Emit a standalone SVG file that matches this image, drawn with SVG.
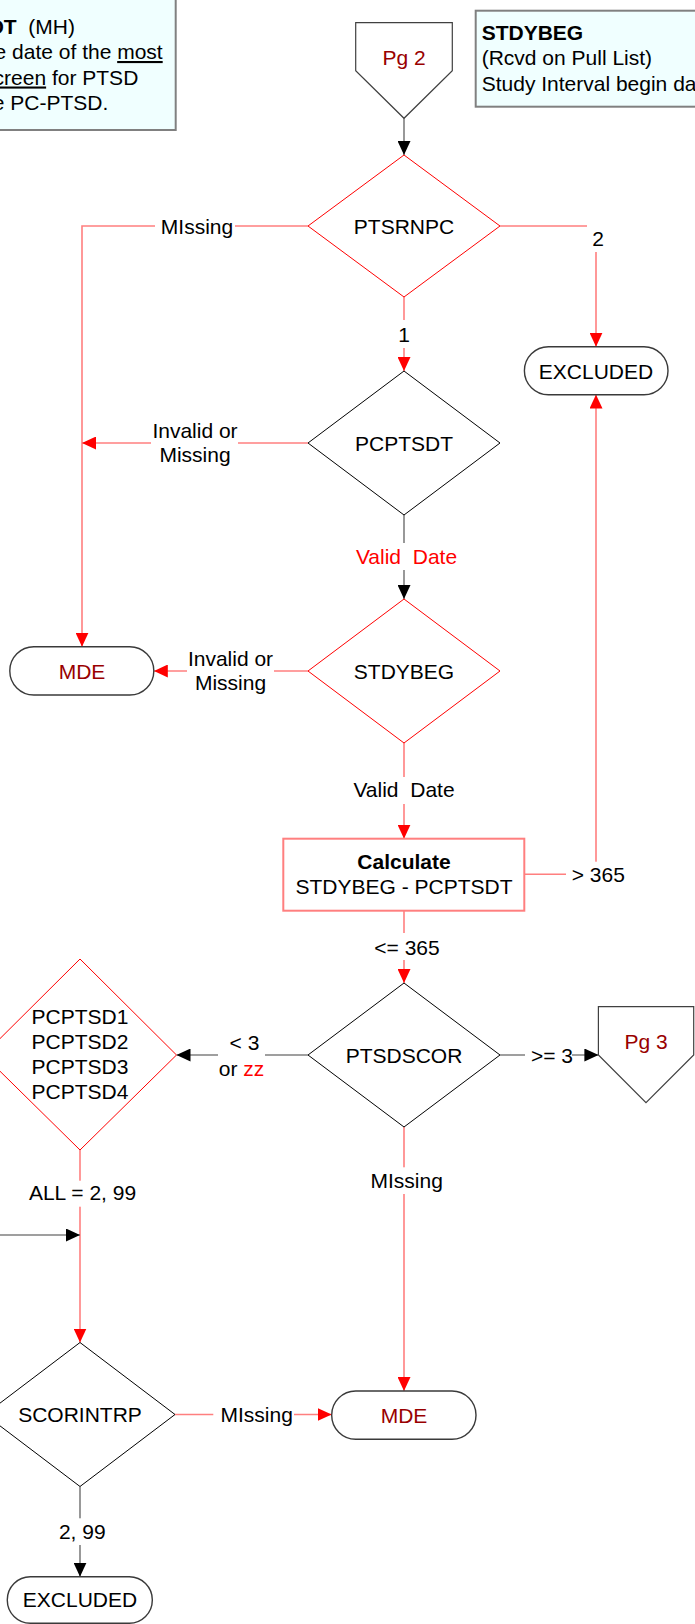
<svg xmlns="http://www.w3.org/2000/svg" width="695" height="1624" viewBox="0 0 695 1624">
<style>
text{font-family:"Liberation Sans",Arial,sans-serif;font-size:21px;fill:#000}
.c{text-anchor:middle}
.dr{fill:#990000}
.rd{fill:#FF0000}
.b{font-weight:bold}
.u{text-decoration:underline}
.note{fill:#F0FFFF;stroke:#808080;stroke-width:2}
.dk{fill:#fff;stroke:#000;stroke-width:1}
.dr2{fill:#fff;stroke:#FF0000;stroke-width:1}
.term{fill:#fff;stroke:#3a3a3a;stroke-width:1.4}
.pent{fill:#fff;stroke:#404040;stroke-width:1.2}
.lr{fill:none;stroke:#FF7F7F;stroke-width:1.6}
.lg{fill:none;stroke:#7F7F7F;stroke-width:1.6}
.bg{fill:#fff;stroke:none}
</style>
<defs>
<marker id="ar" markerUnits="userSpaceOnUse" markerWidth="14" markerHeight="13" refX="14" refY="6.5" orient="auto"><path d="M0,0 L14,6.5 L0,13 z" fill="#FF0000"/></marker>
<marker id="ab" markerUnits="userSpaceOnUse" markerWidth="14" markerHeight="13" refX="14" refY="6.5" orient="auto"><path d="M0,0 L14,6.5 L0,13 z" fill="#000"/></marker>
</defs>
<rect width="695" height="1624" fill="#fff"/>

<g id="note-left">
<rect class="note" x="-40" y="-20" width="215.7" height="150"/>
<text x="75" y="33.5" text-anchor="end" xml:space="preserve"><tspan class="b">DT</tspan>  (MH)</text>
<text x="162.7" y="59" text-anchor="end" xml:space="preserve">e date of the <tspan class="u">most</tspan></text>
<text x="138.3" y="84.5" text-anchor="end" xml:space="preserve"><tspan class="u">creen</tspan> for PTSD</text>
<text x="108.3" y="110" text-anchor="end">e PC-PTSD.</text>
</g>

<g id="note-right">
<rect class="note" x="475.7" y="10.7" width="260" height="96"/>
<text x="481.7" y="39.5" class="b">STDYBEG</text>
<text x="481.7" y="65">(Rcvd on Pull List)</text>
<text x="481.7" y="90.5">Study Interval begin da</text>
</g>

<g id="connectors">
<path class="lg" d="M404,118.3 V155" marker-end="url(#ab)"/>
<path class="lr" d="M308,226 H82 V646.7" marker-end="url(#ar)"/>
<path class="lr" d="M500,226 H596 V346.7" marker-end="url(#ar)"/>
<path class="lr" d="M404,297 V371" marker-end="url(#ar)"/>
<path class="lr" d="M308,443 H82" marker-end="url(#ar)"/>
<path class="lg" d="M404,515 V599" marker-end="url(#ab)"/>
<path class="lr" d="M308,671 H153.8" marker-end="url(#ar)"/>
<path class="lr" d="M404,743 V838.7" marker-end="url(#ar)"/>
<path class="lr" d="M524.3,874.3 H596 V394.6" marker-end="url(#ar)"/>
<path class="lr" d="M404,910.7 V983" marker-end="url(#ar)"/>
<path class="lg" d="M308,1055 H176.5" marker-end="url(#ab)"/>
<path class="lg" d="M500,1055 H598.4" marker-end="url(#ab)"/>
<path class="lr" d="M404,1127 V1391" marker-end="url(#ar)"/>
<path class="lr" d="M80,1150 V1342.5" marker-end="url(#ar)"/>
<path class="lg" d="M0,1235 H80" marker-end="url(#ab)"/>
<path class="lr" d="M175,1414.5 H331.7" marker-end="url(#ar)"/>
<path class="lg" d="M80,1486.5 V1576.7" marker-end="url(#ab)"/>

<rect class="bg" x="155" y="214" width="80" height="26"/>
<text class="c" x="197" y="233.5">MIssing</text>
<rect class="bg" x="587" y="224" width="22" height="28"/>
<text class="c" x="598" y="245.5">2</text>
<rect class="bg" x="393" y="320" width="22" height="28"/>
<text class="c" x="404" y="342">1</text>
<rect class="bg" x="151" y="418" width="87" height="52"/>
<text class="c" x="195" y="437.5">Invalid or</text>
<text class="c" x="195" y="461.5">Missing</text>
<rect class="bg" x="350" y="543" width="110" height="27"/>
<text class="c rd" x="406.5" y="564" xml:space="preserve">Valid  Date</text>
<rect class="bg" x="187" y="646" width="87" height="51"/>
<text class="c" x="230.5" y="666">Invalid or</text>
<text class="c" x="230.5" y="690">Missing</text>
<rect class="bg" x="350" y="777" width="110" height="27"/>
<text class="c" x="404" y="797" xml:space="preserve">Valid  Date</text>
<rect class="bg" x="566" y="861.7" width="66" height="26"/>
<text class="c" x="598.3" y="881.8">&gt; 365</text>
<rect class="bg" x="372" y="933" width="70" height="27"/>
<text class="c" x="407" y="955">&lt;= 365</text>
<rect class="bg" x="218" y="1029" width="47" height="53"/>
<text class="c" x="244.5" y="1050">&lt; 3</text>
<text class="c" x="241.6" y="1075.5">or <tspan class="rd">zz</tspan></text>
<rect class="bg" x="525" y="1043" width="47" height="24"/>
<text class="c" x="552" y="1062.5">&gt;= 3</text>
<rect class="bg" x="26" y="1180.7" width="113" height="26"/>
<text class="c" x="82.5" y="1199.8">ALL = 2, 99</text>
<rect class="bg" x="368" y="1167.3" width="77" height="26.7"/>
<text class="c" x="406.7" y="1187.5">MIssing</text>
<rect class="bg" x="213.3" y="1402" width="80.7" height="26"/>
<text class="c" x="256.7" y="1421.8">MIssing</text>
<rect class="bg" x="55" y="1518.3" width="55" height="26.7"/>
<text class="c" x="82.3" y="1539.2">2, 99</text>
</g>

<g id="pg2">
<polygon class="pent" points="355.7,22.7 452.3,22.7 452.3,70.7 404,118.3 355.7,70.7"/>
<text class="c dr" x="404" y="65">Pg 2</text>
</g>
<g id="ptsrnpc">
<polygon class="dr2" points="404,155 500,226 404,297 308,226"/>
<text class="c" x="404" y="233.5">PTSRNPC</text>
</g>
<g id="excluded1">
<rect class="term" x="524.4" y="346.7" width="143.6" height="48" rx="24"/>
<text class="c" x="596" y="378.5">EXCLUDED</text>
</g>
<g id="pcptsdt">
<polygon class="dk" points="404,371 500,443 404,515 308,443"/>
<text class="c" x="404" y="450.5">PCPTSDT</text>
</g>
<g id="mde1">
<rect class="term" x="9.8" y="646.7" width="144" height="48.3" rx="24"/>
<text class="c dr" x="82" y="678.5">MDE</text>
</g>
<g id="stdybeg">
<polygon class="dr2" points="404,599 500,671 404,743 308,671"/>
<text class="c" x="404" y="678.5">STDYBEG</text>
</g>
<g id="calculate">
<rect x="283.3" y="838.7" width="241" height="72" fill="#fff" stroke="#FF7F7F" stroke-width="2"/>
<text class="c b" x="404" y="869">Calculate</text>
<text class="c" x="404" y="894.3">STDYBEG - PCPTSDT</text>
</g>
<g id="ptsdscor">
<polygon class="dk" points="404,983 500,1055 404,1127 308,1055"/>
<text class="c" x="404" y="1062.5">PTSDSCOR</text>
</g>
<g id="pcptsd14">
<polygon class="dr2" points="80,959 176.5,1055 80,1150 -16.5,1055"/>
<text class="c" x="80" y="1024">PCPTSD1</text>
<text class="c" x="80" y="1049">PCPTSD2</text>
<text class="c" x="80" y="1074">PCPTSD3</text>
<text class="c" x="80" y="1099">PCPTSD4</text>
</g>
<g id="pg3">
<polygon class="pent" points="598.4,1006.7 693.7,1006.7 693.7,1055 646,1102.7 598.4,1055"/>
<text class="c dr" x="646" y="1049.3">Pg 3</text>
</g>
<g id="scorintrp">
<polygon class="dk" points="80,1342.5 175,1414.5 80,1486.5 -15,1414.5"/>
<text class="c" x="80" y="1421.7">SCORINTRP</text>
</g>
<g id="mde2">
<rect class="term" x="331.7" y="1391" width="144.3" height="48.3" rx="24"/>
<text class="c dr" x="404" y="1422.5">MDE</text>
</g>
<g id="excluded2">
<rect class="term" x="7.3" y="1576.7" width="145" height="46.5" rx="23"/>
<text class="c" x="80" y="1607.3">EXCLUDED</text>
</g>
</svg>
